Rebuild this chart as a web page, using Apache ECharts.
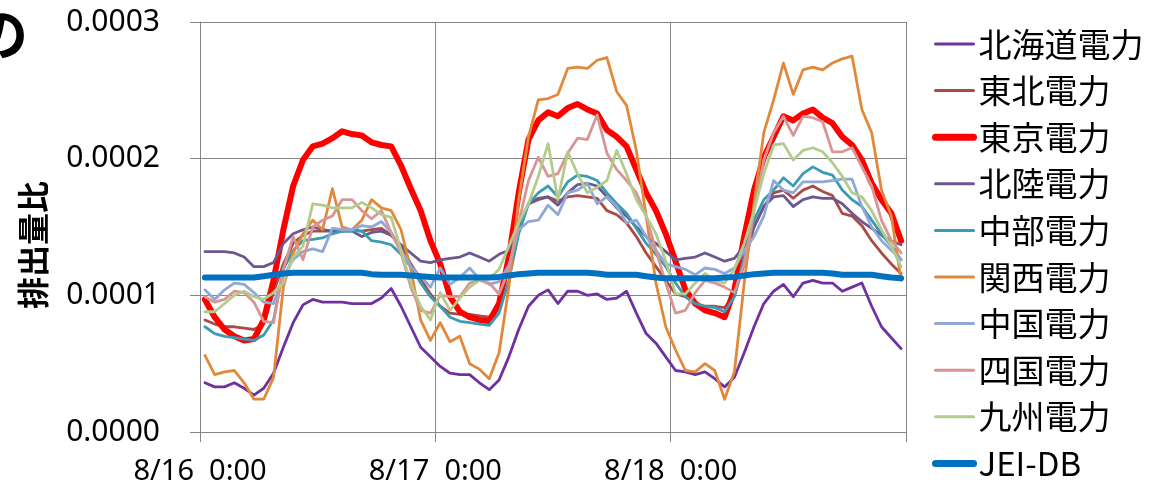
<!DOCTYPE html>
<html>
<head>
<meta charset="utf-8">
<script src="https://cdn.jsdelivr.net/npm/echarts@6/dist/echarts.min.js"></script>
<style>
html,body{margin:0;padding:0;background:#fff;}
#chart{width:1156px;height:492px;}
</style>
</head>
<body>
<div id="chart"></div>
<script>
// values in units of 1e-4 (排出量比), hourly from 8/16 0:00 to 8/18 23:00
const seriesNames = ["北海道電力","東北電力","東京電力","北陸電力","中部電力","関西電力","中国電力","四国電力","九州電力","JEI-DB"];
const xTickLabels = ["8/16  0:00","8/17  0:00","8/18  0:00",""];
const yTickLabels = ["0.0000","0.0001","0.0002","0.0003"];

const hokkaido = [0.36,0.33,0.33,0.36,0.32,0.27,0.32,0.43,0.62,0.80,0.93,0.97,0.95,0.95,0.95,0.94,0.94,0.94,0.98,1.05,0.92,0.77,0.62,0.55,
  0.48,0.43,0.42,0.42,0.36,0.31,0.38,0.55,0.75,0.92,1.00,1.04,0.94,1.03,1.03,1.00,1.01,0.97,0.98,1.03,0.87,0.72,0.65,0.55,
  0.45,0.44,0.42,0.44,0.39,0.33,0.40,0.58,0.77,0.94,1.03,1.08,0.99,1.09,1.11,1.09,1.09,1.03,1.06,1.09,0.92,0.77,0.69,0.61];
const tohoku = [0.82,0.79,0.77,0.77,0.76,0.75,0.79,1.02,1.23,1.38,1.44,1.47,1.47,1.47,1.47,1.48,1.47,1.48,1.49,1.44,1.36,1.23,1.12,1.01,
  0.92,0.87,0.86,0.86,0.85,0.84,0.94,1.23,1.50,1.67,1.70,1.72,1.69,1.72,1.73,1.72,1.71,1.62,1.59,1.53,1.43,1.31,1.21,1.11,
  1.01,0.99,0.94,0.92,0.92,0.91,1.00,1.23,1.50,1.65,1.75,1.77,1.71,1.77,1.80,1.76,1.73,1.60,1.58,1.51,1.40,1.31,1.23,1.16];
const tokyo = [0.97,0.84,0.75,0.70,0.67,0.68,0.82,1.11,1.48,1.80,1.99,2.09,2.11,2.15,2.20,2.18,2.17,2.12,2.10,2.09,1.95,1.78,1.62,1.40,
  1.23,0.99,0.88,0.84,0.82,0.81,0.94,1.28,1.75,2.14,2.28,2.34,2.31,2.37,2.40,2.36,2.33,2.21,2.16,2.09,1.92,1.75,1.62,1.45,
  1.25,1.04,0.94,0.89,0.87,0.84,1.04,1.43,1.77,2.01,2.16,2.31,2.28,2.33,2.36,2.30,2.26,2.16,2.10,1.99,1.82,1.70,1.60,1.40];
const hokuriku = [1.32,1.32,1.32,1.31,1.28,1.21,1.21,1.24,1.38,1.45,1.48,1.50,1.48,1.47,1.47,1.47,1.43,1.46,1.47,1.44,1.37,1.31,1.25,1.24,
  1.26,1.27,1.28,1.31,1.28,1.25,1.30,1.33,1.50,1.67,1.71,1.72,1.66,1.75,1.81,1.82,1.80,1.72,1.64,1.58,1.50,1.43,1.38,1.32,
  1.26,1.27,1.28,1.31,1.28,1.25,1.27,1.36,1.50,1.65,1.72,1.73,1.65,1.70,1.72,1.71,1.71,1.67,1.60,1.54,1.49,1.44,1.40,1.37];
const chubu = [0.77,0.72,0.70,0.69,0.68,0.67,0.71,0.82,1.19,1.33,1.40,1.41,1.42,1.45,1.47,1.47,1.47,1.40,1.39,1.37,1.30,1.21,1.09,0.99,
  0.92,0.84,0.81,0.80,0.79,0.78,0.87,1.11,1.45,1.67,1.75,1.80,1.72,1.83,1.88,1.87,1.84,1.75,1.67,1.60,1.49,1.38,1.30,1.21,
  1.09,0.99,0.94,0.92,0.91,0.88,0.99,1.28,1.55,1.70,1.77,1.86,1.80,1.89,1.94,1.90,1.88,1.77,1.70,1.65,1.55,1.45,1.36,1.26];
const kansai = [0.56,0.42,0.44,0.45,0.36,0.24,0.24,0.40,1.06,1.31,1.45,1.55,1.48,1.78,1.50,1.48,1.55,1.70,1.64,1.62,1.48,1.19,0.82,0.67,
  0.80,0.66,0.70,0.50,0.46,0.39,0.58,1.06,1.70,2.16,2.43,2.44,2.47,2.66,2.67,2.66,2.72,2.74,2.49,2.39,2.06,1.58,1.09,0.77,
  0.60,0.45,0.44,0.50,0.45,0.24,0.44,1.09,1.67,2.19,2.43,2.70,2.47,2.65,2.67,2.65,2.70,2.73,2.75,2.36,2.19,1.77,1.58,1.11];
const chugoku = [1.04,0.97,1.04,1.09,1.08,1.02,0.95,0.94,1.14,1.26,1.32,1.34,1.32,1.49,1.48,1.48,1.51,1.50,1.54,1.46,1.33,1.21,1.14,1.06,
  1.20,1.08,1.13,1.20,1.12,1.08,1.10,1.22,1.48,1.54,1.55,1.66,1.59,1.75,1.77,1.82,1.67,1.72,1.65,1.53,1.55,1.43,1.33,1.23,
  1.21,1.19,1.15,1.20,1.19,1.16,1.20,1.33,1.43,1.58,1.84,1.77,1.75,1.83,1.83,1.83,1.84,1.85,1.85,1.65,1.50,1.40,1.33,1.26];
const shikoku = [0.99,0.95,0.97,1.03,1.02,0.95,0.81,0.80,1.19,1.43,1.26,1.50,1.55,1.58,1.70,1.70,1.62,1.56,1.62,1.46,1.31,1.06,0.89,0.87,
  1.00,0.99,0.99,1.09,1.11,1.09,1.01,1.19,1.53,1.84,2.01,1.87,1.89,2.04,2.15,2.14,2.32,2.04,1.92,1.84,1.75,1.58,1.33,1.09,
  0.87,0.89,1.02,1.11,1.09,1.06,1.02,1.23,1.62,1.99,2.19,2.31,2.17,2.31,2.30,2.27,2.05,2.05,2.08,1.94,1.80,1.55,1.40,1.31];
const kyushu = [0.88,0.88,0.94,1.00,1.03,0.99,0.97,1.02,1.09,1.28,1.36,1.67,1.66,1.64,1.64,1.64,1.68,1.64,1.59,1.57,1.33,1.09,0.92,0.82,
  1.02,0.89,0.98,1.06,1.11,1.12,1.19,1.36,1.53,1.67,1.87,2.11,1.70,2.05,1.89,1.75,1.79,1.84,2.06,1.89,1.70,1.58,1.45,1.25,
  1.01,1.01,1.09,1.16,1.11,1.09,1.19,1.38,1.62,1.89,2.10,2.11,1.99,2.06,2.08,2.05,1.97,1.87,1.75,1.72,1.62,1.48,1.36,1.21];
const jeidb = [1.13,1.13,1.13,1.13,1.13,1.13,1.14,1.15,1.16,1.165,1.165,1.165,1.165,1.165,1.165,1.165,1.165,1.155,1.15,1.15,1.15,1.145,1.14,1.135,
  1.13,1.13,1.13,1.13,1.13,1.13,1.135,1.145,1.155,1.16,1.165,1.165,1.165,1.165,1.165,1.165,1.16,1.15,1.15,1.15,1.15,1.14,1.13,1.125,
  1.125,1.125,1.125,1.125,1.125,1.13,1.135,1.145,1.155,1.16,1.165,1.165,1.165,1.165,1.165,1.165,1.16,1.15,1.15,1.15,1.15,1.14,1.13,1.125];

const seriesValues = [hokkaido, tohoku, tokyo, hokuriku, chubu, kansai, chugoku, shikoku, kyushu, jeidb];
const colors = ["#7030A0","#A94B47","#FF0000","#6C5790","#3A9CB4","#E2883B","#8EA9D8","#D89593","#B3CC8C","#0070C0"];
const widths = [2.8,2.8,6,2.8,2.8,2.8,2.8,2.8,2.8,6];

const chart = echarts.init(document.getElementById('chart'), null, {renderer:'canvas'});
const series = seriesNames.map((name, k) => ({
  name: name,
  type: 'line',
  symbol: 'none',
  showSymbol: false,
  data: seriesValues[k].map((v, i) => [i + 0.5, v]),
  lineStyle: {color: colors[k], width: widths[k], cap: 'round', join: 'round'},
  itemStyle: {color: colors[k]},
  emphasis: {disabled: true},
  animation: false
}));

const option = {
  animation: false,
  backgroundColor: '#ffffff',
  grid: {left: 200, right: 250, top: 22, bottom: 60, containLabel: false},
  xAxis: {
    type: 'value', min: 0, max: 72, interval: 24,
    axisLine: {show: true, lineStyle: {color: '#868686', width: 1}},
    axisTick: {show: true, length: 10, lineStyle: {color: '#868686'}},
    splitLine: {show: true, lineStyle: {color: '#868686', width: 1}},
    axisLabel: {
      margin: 25, fontSize: 29, color: '#000', fontFamily: 'Noto Sans',
      formatter: (v) => xTickLabels[Math.round(v / 24)] || ''
    }
  },
  yAxis: {
    type: 'value', min: 0, max: 3, interval: 1,
    axisLine: {show: true, lineStyle: {color: '#868686', width: 1}},
    axisTick: {show: true, length: 10, lineStyle: {color: '#868686'}},
    splitLine: {show: true, lineStyle: {color: '#868686', width: 1}},
    axisLabel: {
      margin: 40, fontSize: 30, color: '#000', fontFamily: 'Noto Sans',
      formatter: (v) => yTickLabels[Math.round(v)]
    }
  },
  legend: {
    orient: 'vertical', left: 927, top: 21,
    itemWidth: 38, itemHeight: 14, itemGap: 10.6,
    itemStyle: {opacity: 0},
    textStyle: {fontSize: 33, lineHeight: 36, color: '#000', fontFamily: 'Noto Sans CJK JP'},
    data: seriesNames.map((name, k) => ({
      name: name,
      lineStyle: {width: widths[k] === 6 ? 7 : 3, color: colors[k], cap: 'round'}
    })),
    selectedMode: false
  },
  graphic: [
    {type: 'text', x: 33, y: 245, rotation: Math.PI / 2,
      style: {text: '排出量比', font: 'bold 32px "Noto Sans CJK JP"', fill: '#000', align: 'center', verticalAlign: 'middle'}},
    {type: 'text', x: 0, y: 34,
      style: {text: 'の', font: 'bold 56px "Noto Sans CJK JP"', fill: '#000', align: 'center', verticalAlign: 'middle'}}
  ],
  series: series
};
chart.setOption(option);
</script>
</body>
</html>
